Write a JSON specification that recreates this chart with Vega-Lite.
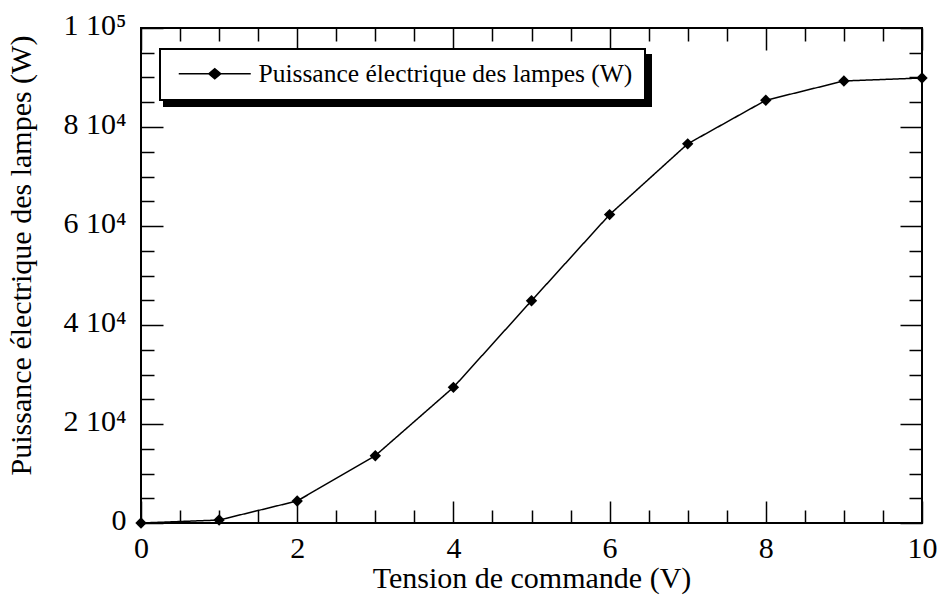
{
  "$schema": "https://vega.github.io/schema/vega-lite/v6.json",
  "width": 781,
  "height": 495,
  "autosize": {"type": "none"},
  "padding": {"left": 141, "top": 28, "right": 20, "bottom": 82},
  "background": "white",
  "config": {
    "view": {"stroke": "black", "strokeWidth": 2},
    "font": "Liberation Serif",
    "axis": {
      "domain": false,
      "grid": false,
      "tickColor": "black",
      "tickWidth": 1.5,
      "labelFont": "Liberation Serif",
      "titleFont": "Liberation Serif",
      "labelFontSize": 30,
      "titleFontSize": 30,
      "labelColor": "black",
      "titleColor": "black",
      "titleFontWeight": "normal"
    },
    "legend": {
      "labelFont": "Liberation Serif",
      "labelFontSize": 25.5,
      "labelLimit": 1000,
      "strokeWidth": 2
    }
  },
  "data": {
    "values": [
      {"tension": 0, "puissance": 0, "serie": "Puissance électrique des lampes (W)"},
      {"tension": 1, "puissance": 600, "serie": "Puissance électrique des lampes (W)"},
      {"tension": 2, "puissance": 4450, "serie": "Puissance électrique des lampes (W)"},
      {"tension": 3, "puissance": 13600, "serie": "Puissance électrique des lampes (W)"},
      {"tension": 4, "puissance": 27400, "serie": "Puissance électrique des lampes (W)"},
      {"tension": 5, "puissance": 44900, "serie": "Puissance électrique des lampes (W)"},
      {"tension": 6, "puissance": 62300, "serie": "Puissance électrique des lampes (W)"},
      {"tension": 7, "puissance": 76600, "serie": "Puissance électrique des lampes (W)"},
      {"tension": 8, "puissance": 85400, "serie": "Puissance électrique des lampes (W)"},
      {"tension": 9, "puissance": 89300, "serie": "Puissance électrique des lampes (W)"},
      {"tension": 10, "puissance": 89900, "serie": "Puissance électrique des lampes (W)"}
    ]
  },
  "resolve": {"axis": {"x": "independent", "y": "independent"}},
  "layer": [
    {
      "mark": {"type": "line", "stroke": "black", "strokeWidth": 1.5},
      "encoding": {
        "x": {
          "field": "tension", "type": "quantitative",
          "scale": {"domain": [0, 10], "nice": false, "zero": false},
          "axis": {
            "orient": "bottom", "values": [0, 2, 4, 6, 8, 10],
            "tickSize": -22, "labelPadding": 32,
            "title": "Tension de commande (V)", "titlePadding": 0,
            "labelFlush": false
          }
        },
        "y": {
          "field": "puissance", "type": "quantitative",
          "scale": {"domain": [0, 100000], "nice": false},
          "axis": {
            "orient": "left", "values": [0, 20000, 40000, 60000, 80000, 100000],
            "tickSize": -22, "labelPadding": 37, "labelOffset": -3,
            "labelExpr": "datum.value == 0 ? '0' : (datum.value == 100000 ? '1 10⁵' : (datum.value / 10000) + ' 10⁴')",
            "title": "Puissance électrique des lampes (W)", "titlePadding": 27, "titleY": 227,
            "labelFlush": false
          }
        },
        "strokeDash": {
          "field": "serie", "type": "nominal",
          "scale": {"domain": ["Puissance électrique des lampes (W)"], "range": [[1, 0]]},
          "legend": {
            "title": null,
            "orient": "none",
            "legendX": 23,
            "legendY": 27,
            "zindex": 1,
            "padding": 12,
            "fillColor": "black",
            "strokeColor": "black",
            "labelExpr": "''",
            "symbolType": "M-3.6,-1.2M42,1.2",
            "symbolSize": 400,
            "symbolOffset": 30,
            "symbolStrokeWidth": 0,
            "symbolStrokeColor": "black",
            "symbolFillColor": "black",
            "labelOffset": 31
          }
        }
      }
    },
    {
      "mark": {"type": "point", "shape": "diamond", "filled": true, "size": 130, "opacity": 1},
      "encoding": {
        "x": {
          "field": "tension", "type": "quantitative",
          "axis": {"orient": "top", "values": [0, 2, 4, 6, 8, 10], "tickSize": -22, "labels": false, "title": null}
        },
        "y": {
          "field": "puissance", "type": "quantitative",
          "axis": {"orient": "right", "values": [0, 20000, 40000, 60000, 80000, 100000], "tickSize": -22, "labels": false, "title": null}
        },
        "color": {
          "field": "serie", "type": "nominal",
          "scale": {"range": ["black"]},
          "legend": {
            "title": null,
            "orient": "none",
            "legendX": 19,
            "legendY": 21,
            "zindex": 2,
            "padding": 12,
            "fillColor": "white",
            "strokeColor": "black",
            "labelColor": "black",
            "symbolType": "M-3.6,0L3.6,0M-0.6,0L0,-0.5L0.6,0L0,0.5Z",
            "symbolSize": 400,
            "symbolOffset": 30,
            "symbolStrokeWidth": 1.5,
            "symbolStrokeColor": "black",
            "symbolFillColor": "black",
            "labelOffset": 31
          }
        }
      }
    },
    {
      "mark": {"type": "point", "opacity": 0},
      "encoding": {
        "x": {
          "field": "tension", "type": "quantitative",
          "axis": {"orient": "bottom", "values": [0.5, 1, 1.5, 2.5, 3, 3.5, 4.5, 5, 5.5, 6.5, 7, 7.5, 8.5, 9, 9.5], "tickSize": -13, "labels": false, "title": null}
        },
        "y": {
          "field": "puissance", "type": "quantitative",
          "axis": {"orient": "left", "values": [5000, 10000, 15000, 25000, 30000, 35000, 45000, 50000, 55000, 65000, 70000, 75000, 85000, 90000, 95000], "tickSize": -13, "labels": false, "title": null}
        }
      }
    },
    {
      "mark": {"type": "point", "opacity": 0},
      "encoding": {
        "x": {
          "field": "tension", "type": "quantitative",
          "axis": {"orient": "top", "values": [0.5, 1, 1.5, 2.5, 3, 3.5, 4.5, 5, 5.5, 6.5, 7, 7.5, 8.5, 9, 9.5], "tickSize": -13, "labels": false, "title": null}
        },
        "y": {
          "field": "puissance", "type": "quantitative",
          "axis": {"orient": "right", "values": [5000, 10000, 15000, 25000, 30000, 35000, 45000, 50000, 55000, 65000, 70000, 75000, 85000, 90000, 95000], "tickSize": -13, "labels": false, "title": null}
        }
      }
    }
  ]
}
